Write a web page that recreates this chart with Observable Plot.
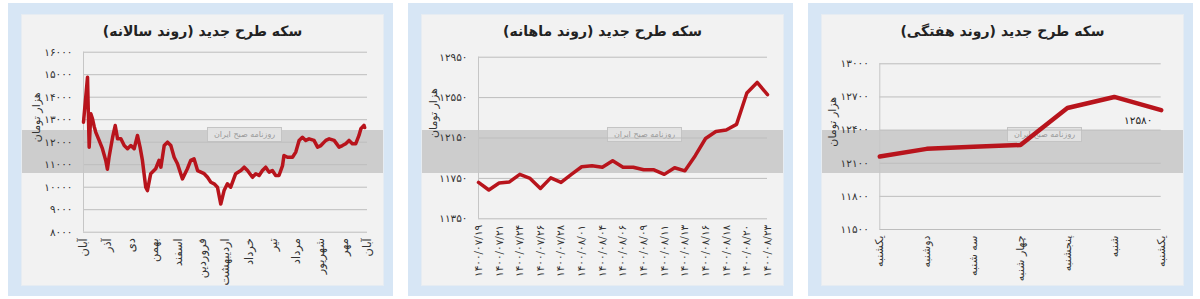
<!DOCTYPE html>
<html><head><meta charset="utf-8">
<script src="https://cdn.jsdelivr.net/npm/d3@7"></script>
<script src="https://cdn.jsdelivr.net/npm/@observablehq/plot@0.6"></script>
<style>
html,body{margin:0;padding:0;background:#fff;}
#root{position:relative;width:1200px;height:299px;overflow:hidden;font-family:"DejaVu Sans",sans-serif;}
.panel{position:absolute;top:0;width:400px;height:299px;}
.outer{position:absolute;left:8px;top:3px;width:385px;height:293px;background:#d7e6f5;}
.card{position:absolute;left:22px;top:15px;width:361px;height:270px;background:#f2f2f2;box-shadow:0 0 0 1px #e6ecf2;overflow:visible;}
.band{position:absolute;left:0;top:115px;width:361px;height:43px;background:#cdcdcd;}
.stamp{position:absolute;left:185px;top:112px;width:73px;height:13px;background:#e2e2e2;border:1px solid #c4c4c4;font-size:8px;line-height:13px;color:#9a9a9a;text-align:center;direction:rtl;}
.title{position:absolute;left:0;width:361px;top:8px;text-align:center;font-weight:bold;font-size:14px;color:#222;direction:rtl;}
</style>
</head><body>
<div id="root"></div>
<script>
// ---------- data ----------
const yearlyMonths = ["آبان","آذر","دی","بهمن","اسفند","فروردین","اردیبهشت","خرداد","تیر","مرداد","شهریور","مهر","آبان"];
const yearlyT = [0,0.12,0.17,0.20,0.24,0.31,0.38,0.45,0.52,0.66,0.80,0.94,1.01,1.08,1.23,1.34,1.44,1.58,1.72,1.86,2.00,2.14,2.28,2.39,2.49,2.63,2.70,2.84,3.05,3.19,3.27,3.41,3.55,3.69,3.83,3.97,4.18,4.39,4.53,4.67,4.82,4.96,5.10,5.24,5.38,5.52,5.66,5.80,5.94,6.08,6.22,6.43,6.65,6.79,6.93,7.14,7.28,7.42,7.56,7.70,7.84,7.98,8.12,8.26,8.41,8.47,8.62,8.83,8.97,9.11,9.25,9.39,9.53,9.74,9.89,10.03,10.24,10.38,10.59,10.80,10.94,11.08,11.22,11.36,11.50,11.64,11.72,11.85,11.88];
const yearlyV = [12890,14300,14890,13500,11780,13260,13040,12700,12440,12080,11710,11190,10800,11330,12220,12740,12150,12150,11850,11710,11850,11710,12300,11780,11190,10000,9850,10600,10820,11190,10890,11850,12000,11850,11330,11040,10370,10820,11190,11260,10740,10670,10600,10440,10220,10150,10000,9250,9850,10150,10000,10600,10740,10890,10740,10440,10600,10520,10740,10890,10670,10740,10520,10520,10960,11410,11330,11330,11560,12080,12220,12080,12150,12080,11780,11850,12080,12150,12080,11780,11850,11930,12080,11930,11930,12300,12600,12750,12650];
const yearlyTicks = [8000,9000,10000,11000,12000,13000,14000,15000,16000];

const monthlyDates = ["1400/07/19","1400/07/21","1400/07/24","1400/07/26","1400/07/28","1400/08/01","1400/08/04","1400/08/06","1400/08/09","1400/08/11","1400/08/13","1400/08/16","1400/08/18","1400/08/20","1400/08/23"];
const monthlyV = [11710,11635,11705,11715,11790,11750,11650,11755,11710,11790,11865,11875,11860,11925,11860,11860,11835,11835,11790,11855,11825,11975,12145,12215,12230,12285,12595,12700,12580];
const monthlyTicks = [11350,11750,12150,12550,12950];

const weekDays = ["یکشنبه","دوشنبه","سه شنبه","چهار شنبه","پنجشنبه","شنبه","یکشنبه"];
const weeklyV = [12160,12230,12250,12265,12600,12700,12580];
const weeklyTicks = [11500,11800,12100,12400,12700,13000];

const titles = ["سکه طرح جدید (روند سالانه)","سکه طرح جدید (روند ماهانه)","سکه طرح جدید (روند هفتگی)"];
const unitLabel = "هزار تومان";

// ---------- helpers ----------
const fa = s => String(s).replace(/\d/g, d => "۰۱۲۳۴۵۶۷۸۹"[d]);
const RED = "#b8141c";

function chart(o) {
  return Plot.plot({
    width: 361, height: 270,
    marginLeft: o.ml, marginRight: o.mr, marginTop: o.mt, marginBottom: o.mb,
    style: {background: "transparent", fontFamily: "DejaVu Sans, sans-serif", fontSize: "10.5px", color: "#333", overflow: "visible"},
    x: {domain: o.xDomain},
    y: {domain: o.yDomain},
    marks: [
      Plot.gridY(o.yTicks, {stroke: "#bdbdbd", strokeOpacity: 1}),
      Plot.ruleX([o.xDomain[0]], {stroke: "#c6c6c6"}),
      Plot.axisY(o.yTicks, {tickSize: 0, tickPadding: 11, tickFormat: fa, fill: "#333", label: null}),
      Plot.axisX(o.xTicks, {tickSize: 0, tickPadding: 6, tickRotate: -90, tickFormat: o.xFormat, fill: "#333", label: null, fontSize: o.xfs}),
      Plot.text([unitLabel], {frameAnchor: "left", rotate: -90, dx: o.ldx, fontSize: 11, fill: "#333"}),
      Plot.line(o.data, {x: "x", y: "y", stroke: RED, strokeWidth: o.sw}),
      ...(o.extra || [])
    ]
  });
}

const yearlyData = yearlyT.map((t, i) => ({x: t, y: yearlyV[i]}));
const monthlyData = monthlyV.map((v, i) => ({x: i, y: v}));
const weeklyData = weeklyV.map((v, i) => ({x: i, y: v}));

const charts = [
  chart({ml: 61, mr: 16, mt: 36.7, mb: 53.3, xDomain: [0, 12], yDomain: [8000, 16000], yTicks: yearlyTicks, xfs: 11.5,
    xTicks: d3.range(13), xFormat: i => yearlyMonths[i], data: yearlyData, sw: 3.5, ldx: -47}),
  chart({ml: 56, mr: 16, mt: 41.7, mb: 66.7, xDomain: [0, 28], yDomain: [11350, 12950], yTicks: monthlyTicks, xfs: 10.5,
    xTicks: d3.range(0, 29, 2), xFormat: i => fa(monthlyDates[i / 2]), data: monthlyData, sw: 3.5, ldx: -45}),
  chart({ml: 57.3, mr: 22.3, mt: 48.3, mb: 56, xDomain: [0, 6], yDomain: [11500, 13000], yTicks: weeklyTicks, xfs: 11,
    xTicks: d3.range(7), xFormat: i => weekDays[i], data: weeklyData, sw: 4.5, ldx: -47,
    extra: [Plot.text(weeklyData.slice(-1), {x: "x", y: "y", text: d => fa(d.y), dx: -23, dy: 10, fontSize: 10.5, fill: "#222"})]})
];

const root = document.getElementById("root");
charts.forEach((svg, k) => {
  const panel = document.createElement("div");
  panel.className = "panel";
  panel.style.left = (400 * k) + "px";
  panel.innerHTML = `<div class="outer"></div><div class="card"><div class="band"></div><div class="stamp">روزنامه صبح ایران</div><div class="title">${titles[k]}</div></div>`;
  const card = panel.querySelector(".card");
  svg.style.position = "absolute";
  svg.style.left = "0px";
  svg.style.top = "0px";
  card.appendChild(svg);
  root.appendChild(panel);
});
</script>
</body></html>
